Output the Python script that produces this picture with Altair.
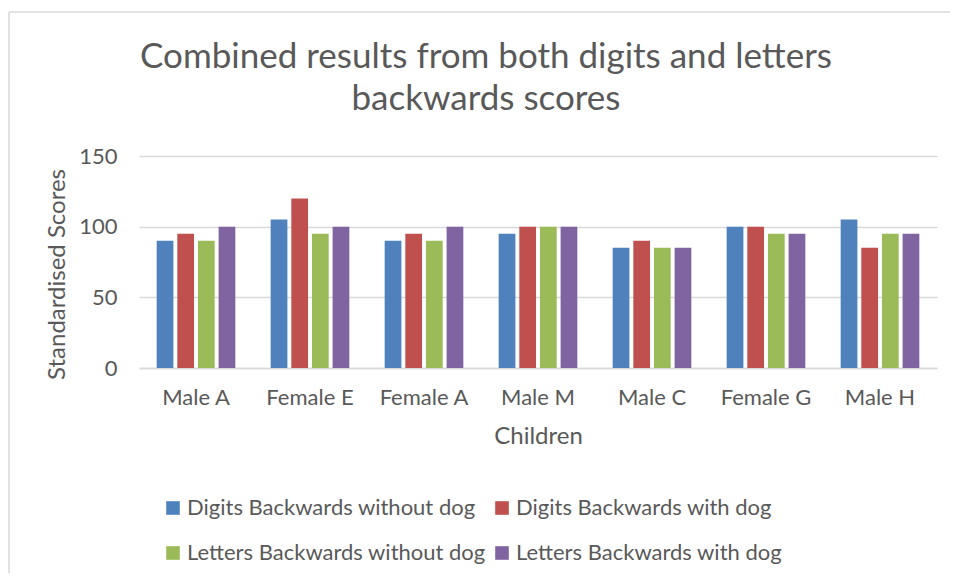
import altair as alt
import pandas as pd

children = ["Male A", "Female E", "Female A", "Male M", "Male C", "Female G", "Male H"]
series = [
    "Digits Backwards without dog",
    "Digits Backwards with dog",
    "Letters Backwards without dog",
    "Letters Backwards with dog",
]
digits_without = [90, 105, 90, 95, 85, 100, 105]
digits_with = [95, 120, 95, 100, 90, 100, 85]
letters_without = [90, 95, 90, 100, 85, 95, 95]
letters_with = [100, 100, 100, 100, 85, 95, 95]
colors = ["#4F81BD", "#C0504D", "#9BBB59", "#8064A2"]
title_lines = ["Combined results from both digits and letters", "backwards scores"]

rows = []
for s, vals in zip(series, [digits_without, digits_with, letters_without, letters_with]):
    for c, v in zip(children, vals):
        rows.append({"Child": c, "Series": s, "Score": v})
df = pd.DataFrame(rows)

FONT = "Lato"
TXT = "#595959"
GRID = "#D9D9D9"

bars = alt.Chart(df).mark_bar().encode(
    x=alt.X(
        "Child:N",
        sort=children,
        scale=alt.Scale(paddingInner=0.31, paddingOuter=0.155),
        axis=alt.Axis(
            title="Children",
            labelAngle=0,
            labelFontSize=22,
            labelFont=FONT,
            labelColor=TXT,
            labelPadding=19,
            ticks=False,
            domainColor=GRID,
            domainWidth=1.5,
            titleFont=FONT,
            titleFontSize=24,
            titleFontWeight="normal",
            titleColor=TXT,
            titlePadding=16,
        ),
    ),
    xOffset=alt.XOffset("Series:N", sort=series, scale=alt.Scale(paddingInner=0.19, paddingOuter=0)),
    y=alt.Y(
        "Score:Q",
        scale=alt.Scale(domain=[0, 150]),
        axis=alt.Axis(
            title="Standardised Scores",
            values=[0, 50, 100, 150],
            labelFontSize=22,
            labelFont=FONT,
            labelColor=TXT,
            labelPadding=22,
            ticks=False,
            domain=False,
            gridColor=GRID,
            gridWidth=1.5,
            titleFont=FONT,
            titleFontSize=24,
            titleFontWeight="normal",
            titleColor=TXT,
            titleAngle=270,
            titleAlign="center",
            titleBaseline="middle",
            titleX=-82,
            titleY=118,
        ),
    ),
    color=alt.Color(
        "Series:N",
        sort=series,
        scale=alt.Scale(domain=series, range=colors),
        legend=alt.Legend(
            title=None,
            orient="none",
            legendX=23,
            legendY=341,
            columns=2,
            direction="horizontal",
            symbolType="square",
            symbolSize=185,
            symbolStrokeWidth=0,
            labelFont=FONT,
            labelFontSize=22,
            labelColor=TXT,
            labelLimit=400,
            labelOffset=3,
            columnPadding=5,
            rowPadding=23,
        ),
    ),
)

title = alt.Chart(alt.Data(values=[{}])).mark_text(
    font=FONT, fontSize=35, color=TXT, align="center", baseline="alphabetic", lineHeight=42
).encode(
    x=alt.value(347), y=alt.value(-88), text=alt.value(title_lines)
)

border = alt.Chart(alt.Data(values=[{}])).mark_rule(color=GRID, strokeWidth=1.5).encode(
    x=alt.value(-130), x2=alt.value(811), y=alt.value(-144)
)
border_left = alt.Chart(alt.Data(values=[{}])).mark_rule(color=GRID, strokeWidth=1.5).encode(
    x=alt.value(-130), y=alt.value(-144), y2=alt.value(420)
)

chart = alt.layer(border, border_left, title, bars).properties(
    width=798,
    height=212,
    autosize=alt.AutoSizeParams(type="none"),
    padding={"left": 131, "top": 148, "right": 13, "bottom": 205},
).configure_view(stroke=None)

chart.save("out.html", embed_options={"renderer": "svg", "actions": False})
